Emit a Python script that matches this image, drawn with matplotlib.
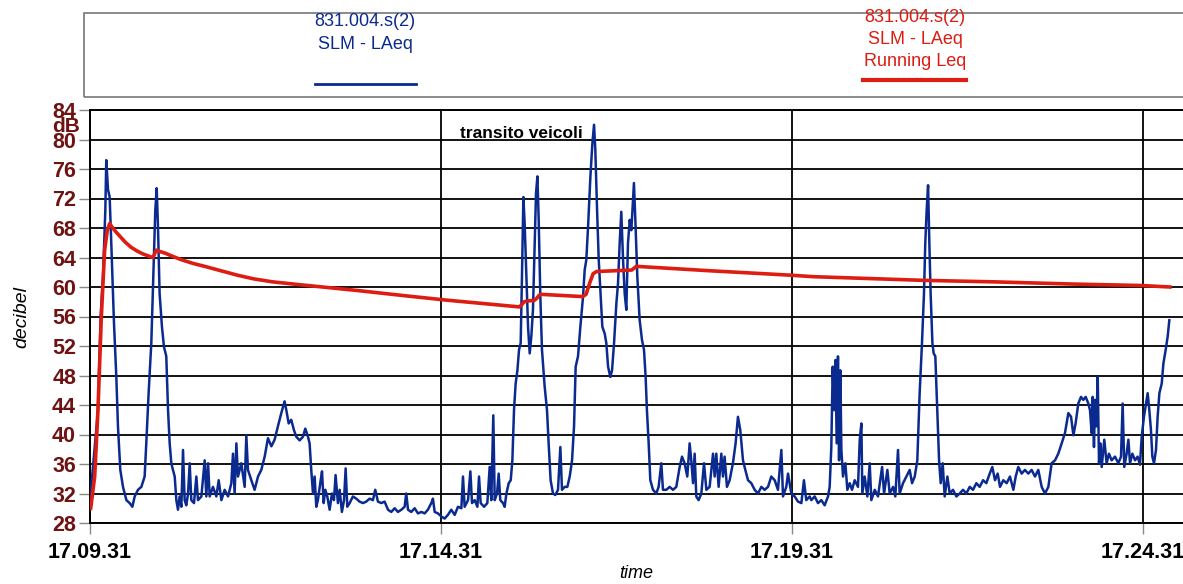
import matplotlib
matplotlib.use("Agg")
import matplotlib.pyplot as plt
from matplotlib.lines import Line2D
from matplotlib.patches import Rectangle

# seconds after 17.09.31, LAeq in dB
blue_t = [
    0, 6.8, 9.1, 11.1, 13.1, 13.9, 15.4, 16.8, 18.2, 20.5, 22.5, 23.9, 25.9, 28.2,
    31.1, 33.9, 36.2, 38.2, 41.0, 43.9, 46.7, 48.1, 50.1, 52.4, 54.1, 55.8, 57.0,
    58.1, 59.5, 61.5, 63.2, 65.2, 66.7, 68.1, 69.5, 70.9, 72.4, 73.8, 75.2, 76.6,
    78.1, 79.5, 80.9, 82.3, 83.8, 85.2, 86.6, 88.9, 90.9, 92.3, 95.2, 98.0, 99.4,
    100.9, 102.3, 105.1, 108.0, 110.0, 112.3, 115.1, 118.0, 120.8, 122.2, 123.6,
    125.1, 126.5, 129.3, 132.2, 133.6, 135.0, 137.9, 140.7, 143.6, 146.4, 149.3,
    152.1, 155.0, 157.8, 160.6, 163.5, 166.3, 167.8, 169.8, 172.0, 174.3, 176.3,
    179.2, 182.0, 184.0, 186.3, 187.7, 189.1, 190.6, 192.0, 193.4, 194.8, 196.8,
    198.3, 199.7, 201.1, 202.8, 204.8, 206.8, 208.5, 209.9, 211.9, 213.4, 215.3,
    217.1, 218.5, 219.9, 221.9, 224.7, 227.6, 230.4, 233.3, 236.1, 239.0, 241.8,
    243.8, 246.1, 249.0, 251.8, 254.7, 257.5, 260.4, 263.2, 266.1, 268.9, 270.3,
    271.8, 274.6, 277.5, 280.3, 283.2, 286.0, 288.8, 291.7, 293.1, 294.6, 297.4,
    300.2, 303.1, 305.9, 308.8, 311.7, 314.5, 317.4, 318.8, 320.2, 323.1, 325.1,
    326.5, 328.8, 331.1, 332.5, 333.9, 336.8, 339.6, 341.6, 343.0, 344.7, 345.9,
    347.9, 349.3, 350.7, 353.0, 354.4, 355.9, 357.9, 359.6, 361.0, 362.4, 363.8,
    365.3, 366.7, 368.1, 369.2, 370.4, 371.5, 373.0, 374.4, 375.8, 377.2, 378.6,
    380.1, 381.2, 382.4, 383.5, 384.9, 386.3, 388.6, 390.6, 392.0, 393.7, 395.7,
    397.7, 400.0, 402.0, 403.4, 405.7, 408.0, 410.0, 412.0, 413.7, 415.1, 417.1,
    419.1, 421.4, 422.8, 424.2, 425.7, 427.7, 429.4, 430.8, 431.9, 433.4, 434.8,
    436.5, 437.9, 439.9, 441.3, 442.8, 444.7, 446.2, 447.9, 449.9, 451.3, 452.7,
    454.1, 455.6, 457.0, 458.4, 459.8, 461.3, 462.7, 464.9, 466.1, 467.8, 469.8,
    471.8, 473.5, 474.9, 476.0, 477.5, 478.9, 481.2, 484.0, 486.0, 488.3, 489.7,
    492.6, 495.4, 498.3, 501.1, 504.0, 506.0, 508.2, 510.5, 512.5, 513.9, 515.4,
    516.8, 518.2, 520.2, 522.5, 524.8, 526.8, 529.6, 532.5, 533.9, 535.3, 537.3,
    539.6, 541.0, 542.4, 544.4, 546.7, 549.5, 551.8, 553.8, 555.8, 558.1, 560.1,
    562.4, 565.2, 568.1, 570.9, 573.8, 576.6, 579.5, 582.3, 585.2, 588.0, 590.9,
    592.3, 595.1, 596.6, 599.4, 602.3, 605.1, 608.0, 610.2, 612.2, 615.1, 616.5,
    619.4, 622.2, 625.1, 627.9, 630.8, 632.2, 633.6, 634.8, 635.9, 637.1, 638.2,
    639.3, 640.2, 641.3, 642.2, 643.6, 645.6, 647.3, 649.3, 651.3, 653.6, 656.4,
    657.9, 659.3, 660.1, 662.1, 664.4, 666.4, 667.8, 670.7, 673.5, 677.0, 678.7,
    681.5, 683.5, 686.4, 688.3, 690.6, 692.0, 694.9, 697.7, 700.6, 702.6, 704.9,
    707.1, 709.1, 711.1, 712.8, 713.9, 715.1, 716.3, 717.4, 718.5, 720.0, 721.1,
    722.5, 724.2, 725.7, 727.1, 728.8, 730.5, 732.8, 734.8, 737.6, 740.5, 743.3,
    746.2, 749.0, 751.9, 754.7, 757.6, 760.4, 763.3, 766.1, 769.0, 771.2, 773.5,
    775.8, 777.8, 780.6, 783.5, 786.3, 789.2, 791.2, 793.4, 796.3, 799.1, 802.0,
    804.8, 807.7, 810.5, 813.4, 816.2, 819.1, 821.9, 824.8, 827.6, 830.5, 833.3,
    836.2, 838.5, 840.5, 842.4, 844.7, 847.0, 849.0, 851.0, 853.3, 854.7, 856.1,
    857.0, 858.1, 859.0, 860.1, 861.3, 862.4, 863.5, 864.7, 866.9, 868.9, 870.9,
    873.2, 876.1, 878.9, 881.2, 882.6, 884.0, 886.0, 887.5, 888.9, 890.9, 893.2,
    895.4, 897.4, 898.9, 900.8, 902.6, 904.0, 905.4, 906.8, 908.0, 909.4, 911.1,
    912.5, 914.0, 916.0, 917.4, 919.4, 921.1, 922.5,
]
blue_db = [
    31.0, 43.3, 56.0, 61.4, 70.4, 77.2, 73.2, 72.2, 65.9, 55.1, 47.8, 41.1, 35.2, 32.9,
    31.1, 30.7, 30.2, 31.6, 32.5, 32.9, 34.3, 38.8, 45.6, 52.4, 61.4, 70.4, 73.4,
    68.2, 59.1, 54.6, 51.9, 50.6, 43.3, 38.8, 36.1, 35.2, 34.3, 31.1, 29.8, 31.6,
    30.2, 37.9, 31.1, 30.4, 32.0, 36.1, 31.1, 30.7, 34.3, 31.1, 31.6, 36.5, 31.6,
    36.1, 31.6, 32.9, 31.6, 33.8, 31.1, 32.5, 31.6, 33.4, 37.4, 32.0,
    38.8, 34.3, 36.1, 32.9, 39.9, 35.2, 33.8, 32.5, 34.3, 35.2, 37.0,
    39.5, 38.4, 39.3, 41.1, 42.9, 44.5, 43.3, 41.5, 42.0, 40.6, 39.7,
    39.2, 39.7, 40.8, 39.7, 38.8, 35.2, 32.0, 34.3, 30.2, 31.1, 33.4,
    35.0, 30.7, 32.5, 31.6, 29.8, 32.0, 31.1, 34.5, 30.7, 32.5, 29.5,
    31.1, 35.4, 30.2, 30.7, 31.6, 31.3, 30.9, 30.7, 30.9, 31.3, 31.1,
    32.5, 30.9, 30.7, 30.9, 29.8, 29.5, 30.0, 29.5, 29.8, 30.2, 32.0,
    29.8, 29.5, 30.0, 29.3, 29.5, 29.3, 29.8, 30.7, 31.3, 29.5, 29.3,
    28.9, 28.6, 29.1, 29.8, 29.1, 30.2, 30.0, 34.3, 30.2, 31.1, 35.0,
    30.7, 31.1, 30.2, 34.3, 30.7, 30.2, 30.7, 35.6, 31.1, 42.6, 31.1,
    32.0, 34.7, 31.1, 30.7, 30.2, 32.0, 33.4, 33.8, 36.5, 43.3, 46.9,
    48.7, 51.5, 52.4, 61.4, 72.2, 68.6, 61.4, 54.6, 51.0, 53.3, 56.9,
    65.9, 72.7, 75.0, 69.1, 58.7, 51.5, 46.5, 43.3, 38.8, 33.8, 32.0,
    31.8, 32.5, 38.3, 32.5, 32.9, 32.9, 34.3, 36.5, 41.1, 49.2, 50.6,
    54.6, 58.7, 62.3, 63.7, 68.2, 75.0, 79.5, 82.0, 78.6, 70.4, 63.7,
    58.7, 54.6, 53.7, 52.4, 49.2, 47.8, 48.7, 52.4, 57.8, 60.5, 65.9,
    70.2, 63.7, 59.1, 56.9, 65.9, 69.1, 67.7, 74.1, 69.1, 61.4, 55.5,
    52.8, 51.5, 47.8, 43.3, 38.8, 33.8, 32.5, 32.0, 32.9, 36.1, 32.5,
    32.5, 32.9, 32.5, 32.9, 35.6, 37.0, 36.1, 34.3, 38.8, 36.5, 33.4,
    37.4, 31.6, 31.1, 32.0, 36.1, 32.5, 32.9, 37.4, 34.3, 37.4, 32.9,
    37.4, 34.3, 37.0, 32.9, 33.8, 36.1, 38.8, 42.4, 40.6, 36.5, 35.2,
    33.8, 33.4, 32.5, 32.0, 32.9, 32.5, 32.9, 34.3, 33.8, 32.5, 37.9,
    31.6, 32.9, 34.7, 32.0, 31.6, 30.9, 30.7, 33.8, 31.1, 31.6, 31.1,
    31.6, 30.7, 31.1, 30.4, 31.6, 32.9, 38.3, 49.2, 43.3, 50.1, 38.8,
    50.6, 36.5, 48.7, 37.9, 34.3, 36.1, 32.5, 33.4, 32.5, 33.8, 32.9,
    39.3, 41.5, 32.0, 34.3, 31.6, 36.1, 31.1, 32.5, 31.6, 35.6, 32.0,
    35.2, 32.0, 32.9, 31.6, 37.9, 32.0, 33.4, 34.3, 35.2, 33.4, 34.3,
    36.5, 45.6, 52.4, 59.1, 65.9, 70.4, 73.8, 65.9, 59.1, 52.4, 51.0,
    50.6, 43.3, 36.5, 33.4, 36.1, 31.6, 34.3, 32.0, 32.5, 31.6, 32.0,
    32.5, 32.0, 32.9, 32.5, 33.4, 32.9, 33.8, 33.4, 34.7, 35.6, 33.8,
    34.7, 32.9, 33.8, 33.4, 34.3, 32.5, 34.3, 35.6, 34.7, 35.2, 34.7,
    35.2, 34.3, 35.2, 32.9, 32.0, 32.9, 36.1, 36.5, 37.4, 38.8, 40.2,
    42.9, 42.4, 39.9, 41.5, 44.2, 45.1, 44.7, 45.1, 44.2, 43.3, 40.2,
    45.1, 38.3, 44.7, 41.1, 47.8, 36.1, 38.8, 35.6, 39.3, 36.1, 37.4,
    36.5, 37.0, 36.1, 37.0, 44.2, 35.6, 37.4, 39.3, 36.1, 37.4, 36.5,
    37.0, 35.9, 39.7, 42.4, 44.2, 45.6, 43.3, 40.6, 37.0, 36.1, 37.9,
    42.4, 45.6, 46.9, 49.6, 51.5, 53.3, 55.5,
]

# running Leq
red_t = [
    0.6, 4.0, 6.8, 9.7, 12.5, 14.8, 16.8, 19.0, 22.0, 26.0, 30.0, 35.0, 40.0,
    45.0, 50.0, 53.8, 56.7, 60.0, 64.0, 70.0, 78.0, 88.0, 98.0, 112.0, 126.0,
    140.0, 156.0, 180.0, 205.0, 230.0, 270.0, 306.0, 340.0, 367.0, 369.0, 371.0,
    374.0, 380.0, 382.0, 384.0, 386.0, 421.0, 424.0, 427.0, 430.0, 433.0, 463.0,
    467.0, 530.0, 599.0, 618.0, 713.0, 772.0, 840.0, 899.0, 923.0,
]
red_db = [
    30.0, 34.3, 43.3, 56.0, 65.0, 67.7, 68.6, 68.1, 67.5, 66.8, 66.1, 65.4, 64.9,
    64.5, 64.2, 64.0, 65.0, 64.8, 64.6, 64.2, 63.7, 63.2, 62.8, 62.2, 61.6,
    61.1, 60.7, 60.3, 59.9, 59.5, 58.8, 58.2, 57.7, 57.3, 57.6, 58.0,
    58.1, 58.2, 58.5, 58.9, 59.0, 58.7, 59.0, 60.5, 61.8, 62.1, 62.3,
    62.8, 62.2, 61.6, 61.4, 60.9, 60.7, 60.4, 60.2, 60.0,
]

y_ticks = list(range(28, 85, 4))
x_ticks = [0, 300, 600, 900]
x_labels = ["17.09.31", "17.14.31", "17.19.31", "17.24.31"]

legend_blue = "831.004.s(2)\nSLM - LAeq"
legend_red = "831.004.s(2)\nSLM - LAeq\nRunning Leq"

BLUE = "#0b2a8f"
RED = "#dd1c12"
MAROON = "#6e1212"

W, H = 1183, 584


def fx(px):
    return px / W


def fy(py):
    return 1 - py / H


def main():
    plt.rcParams["font.family"] = ["Liberation Sans", "DejaVu Sans"]
    fig = plt.figure(figsize=(W / 100, H / 100), dpi=100)
    ax = fig.add_axes([fx(90), fy(523), fx(1183) - fx(90), fy(110) - fy(523)])

    ax.plot(blue_t, blue_db, color=BLUE, lw=1.8, zorder=3)
    ax.plot(red_t, red_db, color=RED, lw=2.6, zorder=4)

    ax.set_xlim(0, (1183 - 90) * 300 / 351)
    ax.set_ylim(28, 84)
    ax.set_yticks(y_ticks)
    ax.set_xticks(x_ticks)
    ax.set_xticklabels(x_labels)
    ax.grid(True, color="black", lw=1.3)
    ax.set_axisbelow(True)
    ax.spines["right"].set_visible(False)
    for s in ["left", "top", "bottom"]:
        ax.spines[s].set_linewidth(1.4)

    ax.tick_params(axis="y", length=8, width=1, color="#888888", pad=2,
                   labelsize=15.5, labelcolor=MAROON)
    ax.tick_params(axis="x", length=8, width=1, color="#888888", pad=6,
                   labelsize=15.5, labelcolor="black")
    for lab in ax.get_yticklabels() + ax.get_xticklabels():
        lab.set_fontweight("bold")

    ax.set_ylabel("decibel", fontsize=14, style="italic", labelpad=16)
    ax.set_xlabel("time", fontsize=13, style="italic", labelpad=1)

    fig.text(fx(66), fy(127), "dB", ha="center", va="center", fontsize=15,
             fontweight="bold", color=MAROON)
    ax.text((460 - 90) * 300 / 351, 80.8, "transito veicoli", ha="left",
            va="center", fontsize=12.5, fontweight="bold", color="black")

    # legend box on top
    fig.add_artist(Rectangle((fx(84), fy(97)), fx(1200) - fx(84), fy(13) - fy(97),
                             transform=fig.transFigure, fill=False,
                             edgecolor="#777777", lw=1.2))
    fig.text(fx(365), fy(13), legend_blue, ha="center", va="top", fontsize=13,
             color=BLUE, linespacing=1.45)
    fig.text(fx(915), fy(9), legend_red, ha="center", va="top", fontsize=13,
             color=RED, linespacing=1.4)
    fig.add_artist(Line2D([fx(315), fx(416)], [fy(84), fy(84)],
                          transform=fig.transFigure, color=BLUE, lw=2))
    fig.add_artist(Line2D([fx(863), fx(966)], [fy(80), fy(80)],
                          transform=fig.transFigure, color=RED, lw=3))

    plt.savefig("out.png", dpi=100)


if __name__ == "__main__":
    main()
